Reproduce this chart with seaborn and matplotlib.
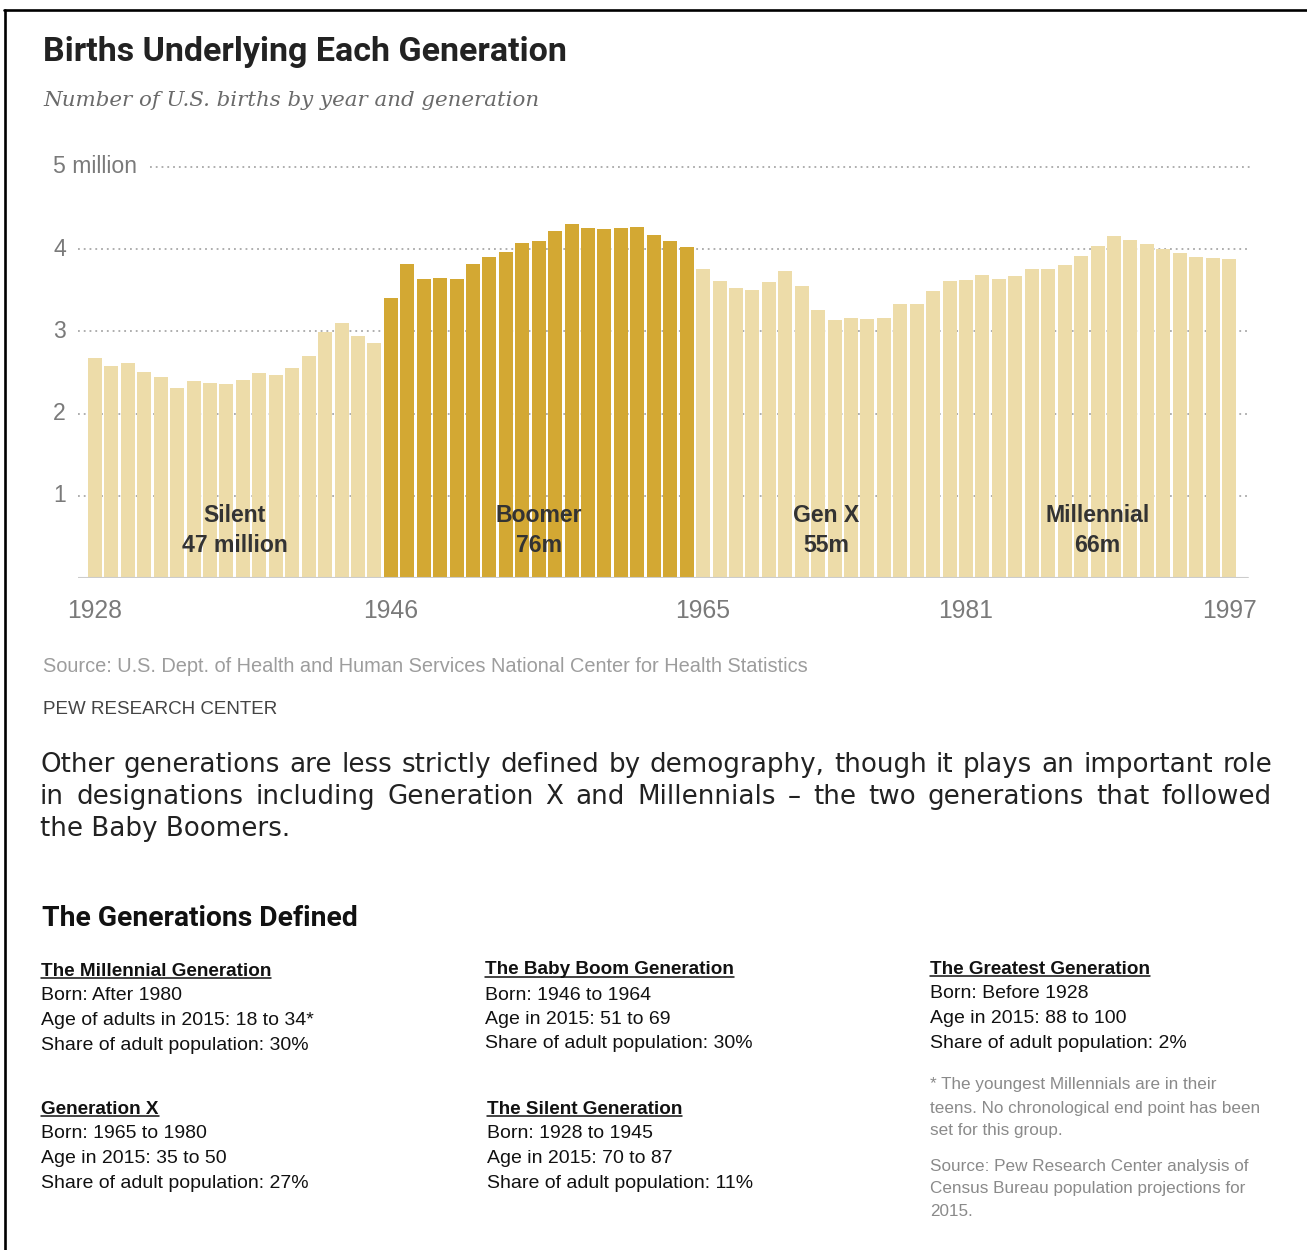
import numpy as np
import pandas as pd
import matplotlib
matplotlib.use("Agg")
import matplotlib.pyplot as plt
import seaborn as sns
from matplotlib.lines import Line2D

# ---------------- data ----------------
years = list(range(1928, 1998))
births = [2.674, 2.582, 2.618, 2.506, 2.440, 2.307, 2.396, 2.377, 2.355, 2.413,
          2.496, 2.466, 2.559, 2.703, 2.989, 3.104, 2.939, 2.858,
          3.411, 3.817, 3.637, 3.649, 3.632, 3.820, 3.909, 3.959, 4.071, 4.097,
          4.218, 4.300, 4.255, 4.245, 4.258, 4.268, 4.167, 4.098, 4.027,
          3.760, 3.606, 3.521, 3.502, 3.600, 3.731, 3.556, 3.258, 3.137, 3.160,
          3.144, 3.168, 3.327, 3.333, 3.494, 3.612,
          3.629, 3.681, 3.639, 3.669, 3.761, 3.757, 3.809, 3.910, 4.041, 4.158,
          4.111, 4.065, 4.000, 3.953, 3.900, 3.891, 3.881]
generation = ["Silent"] * 18 + ["Boomer"] * 19 + ["Gen X"] * 16 + ["Millennial"] * 17
gen_names = ["Silent", "Boomer", "Gen X", "Millennial"]
gen_totals = ["47 million", "76m", "55m", "66m"]
xtick_years = [1928, 1946, 1965, 1981, 1997]
ytick_values = [1, 2, 3, 4, 5]
ytick_labels = ["1", "2", "3", "4", "5 million"]

title = "Births Underlying Each Generation"
subtitle = "Number of U.S. births by year and generation"
source = "Source: U.S. Dept. of Health and Human Services National Center for Health Statistics"
credit = "PEW RESEARCH CENTER"
para_lines = ["Other generations are less strictly defined by demography, though it plays an important role",
              "in designations including Generation X and Millennials \u2013 the two generations that followed",
              "the Baby Boomers."]
section_title = "The Generations Defined"
blocks = [
    ("The Millennial Generation", ["Born: After 1980", "Age of adults in 2015: 18 to 34*", "Share of adult population: 30%"]),
    ("Generation X", ["Born: 1965 to 1980", "Age in 2015: 35 to 50", "Share of adult population: 27%"]),
    ("The Baby Boom Generation", ["Born: 1946 to 1964", "Age in 2015: 51 to 69", "Share of adult population: 30%"]),
    ("The Silent Generation", ["Born: 1928 to 1945", "Age in 2015: 70 to 87", "Share of adult population: 11%"]),
    ("The Greatest Generation", ["Born: Before 1928", "Age in 2015: 88 to 100", "Share of adult population: 2%"]),
]
note_lines = ["* The youngest Millennials are in their",
              "teens. No chronological end point has been",
              "set for this group."]
source2_lines = ["Source: Pew Research Center analysis of",
                 "Census Bureau population projections for",
                 "2015."]

# ---------------- style ----------------
sns.set_style("white")
plt.rcParams["font.family"] = ["Liberation Sans", "DejaVu Sans"]

LIGHT = "#EDDCA9"
DARK = "#D3A833"
W, H = 1307, 1250
fig = plt.figure(figsize=(W / 100, H / 100), dpi=100)
fig.patch.set_facecolor("white")
renderer = fig.canvas.get_renderer()
Y_OFF = 2.0


def fx(x):
    return x / W


def fy(y):
    return 1 - y / H


def put(x, y, s, size, ha="left", va="center", **kw):
    return fig.text(fx(x), fy(y + Y_OFF), s, fontsize=size, ha=ha, va=va, **kw)


def wpx(t):
    return t.get_window_extent(renderer=renderer).width


def fit_size(s, target, **kw):
    t = fig.text(0, 0, s, fontsize=10, **kw)
    w = wpx(t)
    t.remove()
    return 10 * target / w


# border
fig.add_artist(Line2D([fx(4), fx(W)], [fy(10), fy(10)], color="black", lw=1.9))
fig.add_artist(Line2D([fx(5), fx(5)], [fy(10), fy(H)], color="black", lw=1.9))

# ---------------- chart ----------------
ax_l, ax_r, ax_t, ax_b = 78, 1250, 166.7, 578.3
ax = fig.add_axes([fx(ax_l), fy(ax_b), (ax_r - ax_l) / W, (ax_b - ax_t) / H])
df = pd.DataFrame({"year": years, "births": births, "generation": generation})
palette = {"Silent": LIGHT, "Boomer": DARK, "Gen X": LIGHT, "Millennial": LIGHT}
sns.barplot(data=df, x="year", y="births", hue="generation", palette=palette,
            dodge=False, width=0.85, legend=False, ax=ax, saturation=1,
            edgecolor="none", linewidth=0, zorder=3)

px_per = (1229 - 95) / 69.0
ax.set_xlim((ax_l - 95) / px_per, (ax_r - 95) / px_per)
ax.set_ylim(0, 5)
for s in ax.spines.values():
    s.set_visible(False)
ax.set_xlabel("")
ax.set_ylabel("")
ax.set_yticks([])

tick_size = fit_size("1928", 55)
ax.set_xticks([years.index(y) for y in xtick_years])
ax.set_xticklabels([str(y) for y in xtick_years], fontsize=tick_size, color="#7a7a7a")
ax.tick_params(axis="x", length=8, width=1, color="#bbbbbb", pad=7, direction="out")

grid_kw = dict(color="#a8a8a8", lw=1.3, ls=(0, (1, 2.2)), zorder=0)
for v in ytick_values:
    if v == 5:
        ax.axhline(v, xmin=(150 - ax_l) / (ax_r - ax_l), clip_on=False, **grid_kw)
    else:
        ax.axhline(v, **grid_kw)
ax.axhline(0, xmax=(1248 - ax_l) / (ax_r - ax_l), color="#cccccc", lw=1.5, zorder=4)

ylab_size = fit_size("5 million", 85)
for v, lab in zip(ytick_values, ytick_labels):
    ax.text((53 - ax_l) / (ax_r - ax_l), v, lab, transform=ax.get_yaxis_transform(),
            ha="left", va="center", fontsize=ylab_size, color="#7a7a7a")

ann_size = fit_size("47 million", 106, fontweight="bold")
for name, total in zip(gen_names, gen_totals):
    idx = [i for i, g in enumerate(generation) if g == name]
    xc = (idx[0] + idx[-1]) / 2
    ax.text(xc, (ax_b - 515) / ((ax_b - ax_t) / 5), name, ha="center", va="center",
            fontsize=ann_size, fontweight="bold", color="#333333", zorder=5)
    ax.text(xc, (ax_b - 545) / ((ax_b - ax_t) / 5), total, ha="center", va="center",
            fontsize=ann_size, fontweight="bold", color="#333333", zorder=5)

# ---------------- headings ----------------
put(43, 50, title, fit_size(title, 524, fontweight="bold", family="Roboto"),
    fontweight="bold", family="Roboto", color="#222222")
put(43, 99, subtitle, fit_size(subtitle, 495, style="italic", family="DejaVu Serif"),
    style="italic", family="DejaVu Serif", color="#6a6a6a")
put(43, 665, source, fit_size(source, 770), color="#9d9d9d")
put(43, 707, credit, fit_size(credit, 234), color="#444444")

# ---------------- paragraph (justified) ----------------
para_font = dict(family="DejaVu Sans", color="#222222")
para_size = fit_size(para_lines[2], 250, **para_font)
para_y = [763, 795, 827]
for k, line in enumerate(para_lines):
    if k < 2:
        words = line.split(" ")
        texts = [put(0, para_y[k], w, para_size, **para_font) for w in words]
        widths = [wpx(t) for t in texts]
        gap = (1272 - 40 - sum(widths)) / (len(words) - 1)
        x = 40
        for t, w in zip(texts, widths):
            t.set_x(fx(x))
            x += w + gap
    else:
        put(40, para_y[k], line, para_size, **para_font)

# ---------------- generations defined ----------------
put(42, 917, section_title, fit_size(section_title, 316, fontweight="bold", family="Roboto"),
    fontweight="bold", family="Roboto", color="#111111")

head_size = fit_size(blocks[0][0], 229, fontweight="bold")
body_size = fit_size(blocks[0][1][2], 267)
positions = [(41, 969), (41, 1107), (485, 968), (487, 1107), (930, 967)]
for (head, body), (x0, y0) in zip(blocks, positions):
    t = put(x0, y0, head, head_size, fontweight="bold", color="#111111")
    w = wpx(t)
    fig.add_artist(Line2D([fx(x0), fx(x0 + w)], [fy(y0 + 9), fy(y0 + 9)], color="#111111", lw=1.1))
    for j, line in enumerate(body):
        put(x0, y0 + 25 + j * 24.5, line, body_size, color="#111111")

note_size = fit_size(note_lines[1], 331)
for j, line in enumerate(note_lines):
    put(930, 1083 + j * 23, line, note_size, color="#8a8a8a")
for j, line in enumerate(source2_lines):
    put(930, 1164 + j * 23, line, note_size, color="#8a8a8a")

fig.savefig("out.png", dpi=100, facecolor="white")
